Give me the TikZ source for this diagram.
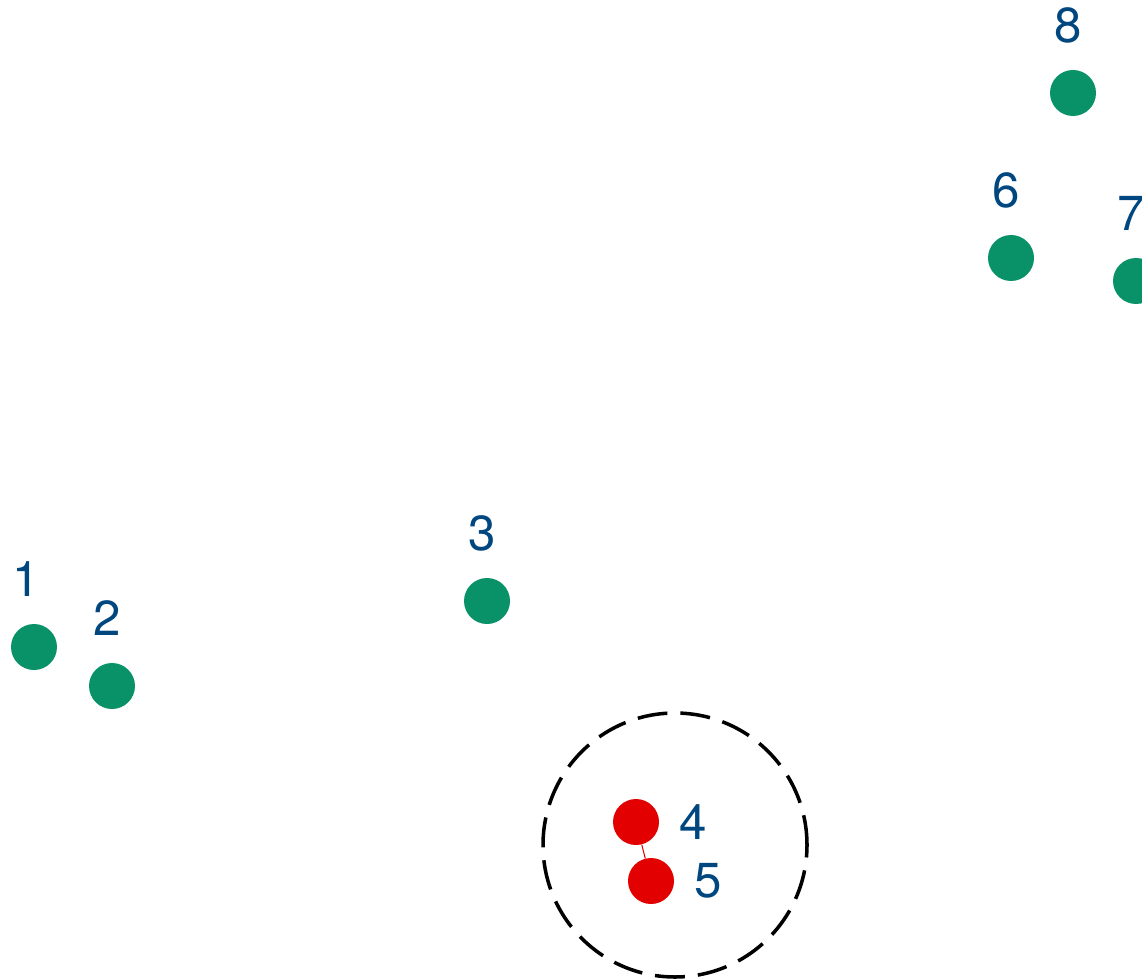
\documentclass[tikz,border=0pt]{standalone}
\usepackage{fontspec}
\setmainfont{TeX Gyre Heros}
\usetikzlibrary{positioning}
\definecolor{ptgreen}{RGB}{9,145,104}
\definecolor{ptred}{RGB}{226,0,0}
\definecolor{lblblue}{RGB}{0,70,127}

\begin{document}
\begin{tikzpicture}[
  pt/.style={circle, fill=ptgreen, inner sep=0pt, minimum size=0.92cm},
  hit/.style={pt, fill=ptred},
  lbl/.style={text=lblblue, inner sep=0pt, font=\fontsize{28}{32}\selectfont},
  node distance=0.53cm]
  \useasboundingbox (0,0) rectangle (22.84,-19.58);
  % Points
  \node[pt] (p1) at (0.68,-12.94) {};
  \node[pt] (p2) at (2.24,-13.72) {};
  \node[pt] (p3) at (9.74,-12.02) {};
  \node[hit] (p4) at (12.72,-16.44) {};
  \node[hit] (p5) at (13.02,-17.62) {};
  \node[pt] (p6) at (20.22,-5.16) {};
  \node[pt] (p7) at (22.72,-5.62) {};
  \node[pt] (p8) at (21.46,-1.86) {};
  % Labels
  \node[lbl, above=of p1, xshift=-0.15cm] (l1) {1};
  \node[lbl, above=of p2, xshift=-0.1cm] (l2) {2};
  \node[lbl, above=of p3, xshift=-0.1cm] (l3) {3};
  \node[lbl, right=0.39cm of p4] (l4) {4};
  \node[lbl, right=0.39cm of p5] (l5) {5};
  \node[lbl, above=of p6, xshift=-0.1cm] (l6) {6};
  \node[lbl, above=of p7, xshift=-0.1cm] (l7) {7};
  \node[lbl, above=of p8, xshift=-0.1cm] (l8) {8};
  % Link and radius
  \draw[ptred, line width=0.6pt] (p4) -- (p5);
  \draw[black, line width=2pt, dash pattern=on 0.6cm off 0.26cm] (13.5,-16.9) circle (2.64cm);
\end{tikzpicture}
\end{document}
